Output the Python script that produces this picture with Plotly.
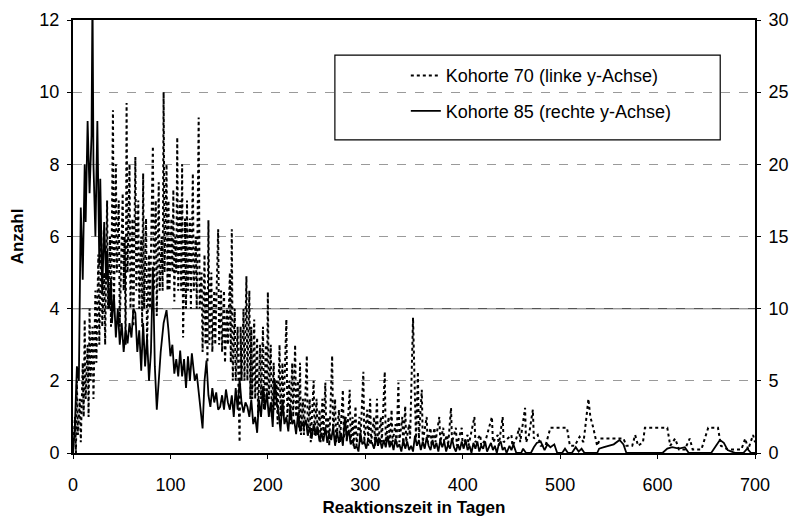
import plotly.graph_objects as go

# ---------------- data ----------------
# Kohorte 70 (left y-axis): turning points (day, count)
k70_days = [0, 2, 3, 4, 5, 7, 8, 10, 11, 12, 13, 15, 16, 17, 18, 20, 21, 23, 24, 26, 27, 29, 30, 32, 33, 35, 36, 38, 39,
            41, 42, 44, 45, 47, 48, 51, 52, 53, 54, 55, 56, 58, 59, 61, 62, 64, 65, 67, 68, 70, 71, 72, 73, 75, 76, 78, 79,
            82, 83, 85, 86, 88, 89, 91, 92, 93, 94, 96, 97, 98, 99, 101, 102, 103, 104, 105, 106, 107, 108, 110, 111, 112,
            113, 115, 116, 117, 118, 120, 121, 123, 124, 126, 127, 129, 130, 132, 133, 135, 136, 137, 138, 139, 140, 142,
            143, 145, 146, 149, 150, 152, 153, 155, 156, 158, 159, 161, 162, 163, 164, 166, 167, 169, 170, 171, 172, 173,
            175, 176, 178, 179, 181, 182, 183, 184, 186, 187, 189, 190, 192, 193, 195, 196, 198, 199, 200, 201, 203, 204,
            206, 207, 209, 210, 212, 213, 215, 216, 219, 220, 222, 223, 225, 226, 228, 229, 231, 232, 233, 234, 236, 237,
            240, 241, 243, 244, 247, 248, 250, 251, 253, 254, 256, 257, 259, 260, 262, 263, 266, 267, 269, 270, 273, 274,
            277, 278, 280, 281, 284, 285, 287, 288, 290, 291, 294, 295, 298, 299, 302, 303, 305, 306, 309, 310, 312, 313,
            316, 317, 320, 321, 324, 325, 327, 328, 331, 332, 334, 335, 338, 339, 341, 342, 345, 346, 349, 351, 352, 354,
            355, 358, 359, 363, 364, 367, 368, 371, 372, 376, 377, 380, 381, 384, 385, 388, 389, 393, 394, 399, 400, 405,
            406, 412, 413, 418, 419, 424, 430, 431, 436, 437, 441, 442, 446, 450, 451, 455, 458, 459, 464, 465, 468, 472,
            473, 477, 480, 485, 490, 507, 510, 515, 520, 524, 527, 529, 531, 534, 538, 541, 565, 568, 574, 577, 580, 585,
            587, 610, 613, 618, 622, 628, 633, 636, 645, 652, 662, 665, 672, 680, 686, 690, 693, 698, 700]
k70_vals = [0, 1, 0, 2, 0.5, 1.5, 0.3, 2.5, 1, 3.7, 1.5, 3, 1, 4, 2, 3.5, 1.5, 4.5, 2.5, 5.5, 3, 6.2, 3.5, 5, 3, 7, 4, 6, 3.5,
            9.5, 4, 8, 5, 7, 3.5, 7.2, 4.5, 6, 3, 9.7, 5, 8, 4, 6.5, 3.5, 8.2, 4.5, 7, 4, 6, 3.5, 7.75, 4, 6.5, 3, 5.5, 4,
            8.5, 4.5, 7, 3.8, 7.5, 4.5, 6, 4.5, 10, 5, 8, 4.5, 7, 4.5, 6.5, 5, 7.3, 4.2, 6, 5, 8.75, 4.5, 7, 4.5, 8,
            3.2, 6.5, 4, 7, 4.5, 6.5, 4, 7.75, 4.5, 6, 4, 9.3, 4, 5, 2.8, 5.5, 3, 4.5, 2.5, 6.45, 3, 5,
            2.8, 4.5, 3, 6.2, 3, 4.5, 2.8, 4.5, 2.5, 4, 3, 5, 2.5, 6.2, 2, 4, 2, 3.5, 1.5, 0.3, 3.5, 2,
            4, 2, 4.9, 2, 4.5, 1.5, 3.5, 1.5, 3.7, 1.5, 3.2, 1, 3, 1.5, 3.5, 1.2, 3, 1.5, 4.46, 1.5, 3, 1,
            2.5, 1.2, 2, 0.8, 3, 1, 2.5, 1, 3.7, 1, 2, 0.8, 2.5, 1, 3, 1, 2, 0.7, 2.5, 0.5, 1.5, 0.5,
            2.7, 0.5, 1.5, 0.3, 2, 0.5, 1.5, 0.5, 1.2, 0.3, 1.5, 0.5, 1.95, 0.5, 1, 0.2, 2.7, 0.5, 1.5, 0.3, 1.2, 0.3,
            1.75, 0.4, 1, 0.3, 1.75, 0.3, 1, 0.2, 1.3, 0.2, 1, 0.3, 2.25, 0.3, 1.2, 0.2, 1.5, 0.3, 1, 0.2, 1.5, 0.2,
            1, 0.3, 2.25, 0.3, 1, 0.2, 1.2, 0.3, 0.8, 0.2, 1.95, 0.3, 1, 0.2, 1.3, 0.3, 0.8, 0.4, 3.75, 1, 0.4, 2.25,
            0.4, 1.75, 0.3, 1.0, 0.3, 0.7, 0.2, 0.7, 0.3, 1.0, 0.3, 0.7, 0.3, 0.5, 0.2, 1.25, 0.3, 0.7, 0.2, 0.7, 0.2, 0.5,
            0.2, 1.0, 0.3, 0.5, 0.2, 0.4, 1.0, 0.3, 0.5, 0.2, 1.0, 0.3, 0.4, 0.5, 0.2, 0.4, 0.7, 0.3, 1.25, 0.3, 0.5, 1.2,
            0.4, 0.5, 0.2, 0.2, 0.7, 0.7, 0.2, 0.2, 0.45, 0.3, 1.0, 1.5, 1.0, 0.7, 0.2, 0.4, 0.4, 0.2, 0.2, 0.5, 0.2, 0.3,
            0.7, 0.7, 0.2, 0.4, 0.1, 0.1, 0.4, 0.1, 0.1, 0.7, 0.7, 0.2, 0.1, 0.1, 0.1, 0.4, 0.1, 0.5, 0.3]

# Kohorte 85 (right y-axis): turning points (day, count)
k85_days = [0, 2, 4, 6, 8, 10, 12, 13, 15, 17, 19, 20, 21, 23, 25, 27, 28, 30, 32, 34, 35, 37, 39, 40, 42, 44, 46, 48,
            50, 52, 54, 56, 58, 60, 62, 64, 66, 68, 70, 72, 74, 76, 78, 80, 82, 84, 86, 88, 90, 93, 96, 98, 100, 102,
            104, 106, 108, 110, 112, 114, 116, 118, 120, 122, 125, 127, 130, 133, 135, 137, 139, 141, 143, 145, 147,
            149, 151, 153, 155, 157, 159, 161, 163, 165, 167, 169, 171, 173, 175, 177, 179, 181, 183, 185, 187, 189,
            191, 193, 195, 197, 199, 201, 203, 205, 207, 209, 211, 213, 215, 217, 219, 221, 223, 225, 227, 229, 231,
            233, 235, 237, 239, 241, 243, 245, 247, 249, 251, 253, 255, 257, 259, 261, 263, 265, 267, 269, 271, 273,
            275, 277, 279, 281, 283, 285, 287, 289, 291, 293, 295, 297, 299, 301, 303, 305, 307, 309, 311, 313, 315,
            317, 319, 321, 323, 325, 327, 329, 331, 333, 335, 337, 339, 341, 343, 345, 347, 349, 351, 353, 355, 357,
            359, 361, 363, 365, 367, 369, 371, 373, 375, 377, 379, 381, 383, 385, 387, 389, 391, 393, 395, 397, 399,
            401, 403, 405, 407, 409, 411, 413, 415, 417, 419, 421, 423, 425, 427, 429, 431, 433, 435, 437, 439, 441,
            443, 445, 448, 450, 452, 455, 460, 462, 465, 470, 473, 476, 480, 484, 487, 490, 494, 497, 502, 505, 508,
            512, 516, 519, 522, 525, 538, 540, 545, 550, 555, 561, 565, 568, 605, 610, 615, 622, 628, 632, 655, 660,
            664, 668, 672, 676, 680, 688, 692, 696, 700]
k85_vals = [0, 2, 6, 5, 17, 12, 20, 16, 23, 18, 22, 32, 20, 15, 23, 13, 19, 11, 16, 12, 14, 10, 12, 9, 11, 8, 10, 7.5,
            9, 7, 8.5, 7.6, 9, 8, 10, 9.7, 7, 8.5, 5.7, 9, 6, 8, 5, 7, 12.9, 6, 3, 5, 7, 9, 9.9, 8.5, 6.7, 7.5,
            5.5, 6.5, 5.3, 7.1, 5.3, 6.5, 4.5, 6.7, 5, 6.9, 5, 5.5, 3.5, 1.7, 5, 6.4, 4, 3.2, 4.5, 3.5, 4.2,
            3, 3.2, 4, 3, 4.4, 3.5, 3, 4, 2.5, 4.5, 3, 5.1, 3.5, 2.8, 3.5, 3.2, 2.5, 3.7, 2, 2.5, 1.4,
            3.7, 2.5, 4.6, 3, 4.2, 2.5, 3.5, 1.8, 5.1, 3.5, 2.8, 1.5, 3.7, 2, 2.5, 1.5, 3.2, 2, 2.3, 1.3, 2.8,
            1.5, 2.1, 1.8, 2.3, 1.2, 1.8, 1, 2, 1.2, 1.8, 0.8, 1.4, 0.8, 1.8, 0.7, 1.4, 0.9, 1.8, 0.5, 1.5, 0.7,
            1.4, 0.5, 2.5, 1.0, 1.6, 0.6, 0.9, 0.3, 0.5, 0.1, 1.4, 0.6, 0.8, 0.3, 1.0, 0.7, 0.7, 0.3, 1.1, 0.5, 1.0,
            0.3, 0.9, 0.4, 1.2, 0.4, 0.8, 0.2, 1.0, 0.4, 0.6, 0.1, 0.9, 0.3, 0.8, 0.2, 0.5, 0.1, 1.2, 0.5, 0.9, 0.2,
            0.8, 0.3, 1.1, 0.5, 0.2, 0.9, 0.3, 0.7, 0.1, 0.9, 0.4, 0.8, 0.1, 0.6, 0.3, 1.0, 0.4, 0.1, 0.6, 0.2, 0.8,
            0.3, 0.9, 0.2, 0.5, 0.0, 0.7, 0.3, 0.8, 0.1, 0.5, 0.3, 0.8, 0.1, 0.4, 0.7, 0.2, 0.5, 0.0, 0.6, 0.8, 0.2,
            0.4, 0.0, 0.5, 0.2, 0.6, 0.0, 0.0, 0.3, 0.0, 0.0, 0.4, 0.7, 0.8, 0.2, 0.6, 0.4, 0.6, 0.0, 0.0, 0.3, 0.0,
            0.0, 0.4, 0.1, 0.3, 0.0, 0.0, 0.3, 0.4, 0.5, 0.6, 0.9, 0.6, 0.0, 0.0, 0.3, 0.4, 0.3, 0.4, 0.0, 0.0, 0.5,
            0.9, 0.7, 0.2, 0.1, 0.0, 0.0, 0.3, 0.0, 0.0]

x_ticks = [0, 100, 200, 300, 400, 500, 600, 700]
y_left_ticks = [0, 2, 4, 6, 8, 10, 12]
y_right_ticks = [0, 5, 10, 15, 20, 25, 30]

name70 = "Kohorte 70 (linke y-Achse)"
name85 = "Kohorte 85 (rechte y-Achse)"

FONT = "Liberation Sans, Arial, sans-serif"

fig = go.Figure()
fig.add_trace(go.Scatter(x=k70_days, y=k70_vals, mode="lines", name=name70, legendgroup="a",
                         line=dict(color="black", width=2, dash="dot"), yaxis="y"))
fig.add_trace(go.Scatter(x=k85_days, y=k85_vals, mode="lines", name=name85, legendgroup="b",
                         line=dict(color="black", width=1.8), yaxis="y2"))

# legend frame (white, covers grid lines)
fig.add_shape(type="rect", xref="paper", yref="paper", x0=0.384, x1=0.949, y0=0.723, y1=0.919,
              line=dict(color="black", width=1.2), fillcolor="white", layer="between")
# darker solid grid line at left 4 / right 10
fig.add_shape(type="line", xref="paper", yref="y", x0=0, x1=1, y0=4, y1=4,
              line=dict(color="#555555", width=1.3), layer="between")

fig.update_layout(
    width=792, height=524,
    margin=dict(l=73, r=37, t=20, b=71, autoexpand=False),
    paper_bgcolor="white", plot_bgcolor="white",
    font=dict(family=FONT, size=18, color="black"),
    showlegend=True,
    legend=dict(x=0.488, y=0.914, xanchor="left", yanchor="top",
                bgcolor="rgba(0,0,0,0)", borderwidth=0,
                font=dict(family=FONT, size=18, color="black"),
                tracegroupgap=9),
    xaxis=dict(range=[0, 700], tickvals=x_ticks, ticks="outside", ticklen=4, tickcolor="black",
               showline=True, linecolor="black", linewidth=2, mirror=True, automargin=False,
               showgrid=False, zeroline=False, ticklabelstandoff=10,
               tickfont=dict(family=FONT, size=18),
               title=dict(text="<b>Reaktionszeit in Tagen</b>", font=dict(family=FONT, size=17), standoff=8)),
    yaxis=dict(range=[0, 12], tickvals=y_left_ticks, ticks="outside", ticklen=4, tickcolor="black",
               showline=True, linecolor="black", linewidth=2, ticklabelstandoff=4, automargin=False,
               tickfont=dict(family=FONT, size=18),
               showgrid=True, gridcolor="#9a9a9a", gridwidth=1, griddash="dash", zeroline=False,
               title=dict(text="<b>Anzahl</b>", font=dict(family=FONT, size=17), standoff=11)),
    yaxis2=dict(range=[0, 30], tickvals=y_right_ticks, overlaying="y", side="right",
                ticks="outside", ticklen=4, tickcolor="black", ticklabelstandoff=4, automargin=False,
                tickfont=dict(family=FONT, size=18),
                showline=True, linecolor="black", linewidth=2,
                showgrid=False, zeroline=False),
)

fig.write_html("out.html")
